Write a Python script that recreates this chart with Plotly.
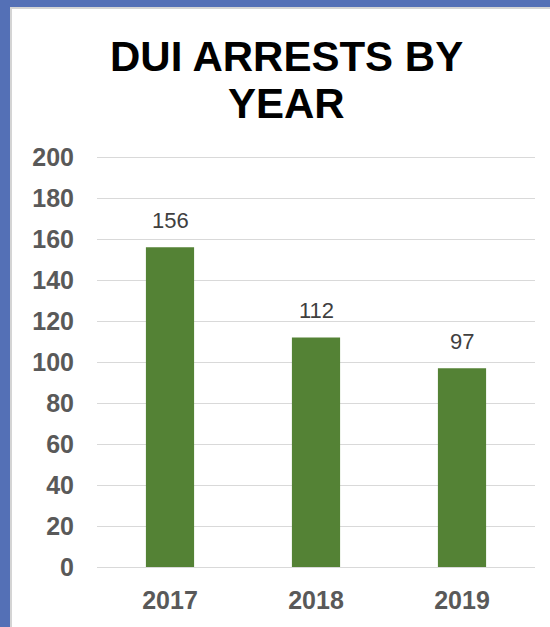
import plotly.graph_objects as go

# Data
years = ["2017", "2018", "2019"]
arrests = [156, 112, 97]
y_ticks = list(range(0, 201, 20))
title_lines = ["DUI ARRESTS BY", "YEAR"]

W, H = 550, 627
L, R, T, B = 97, 15, 155, 60
plot_w = W - L - R
plot_h = H - T - B
y_max = 201


def px_to_paper_x(px):
    return (px - L) / plot_w


def px_to_paper_y(py):
    return (H - B - py) / plot_h


fig = go.Figure(
    go.Bar(
        x=years,
        y=arrests,
        marker=dict(color="#548235", line=dict(width=0)),
        hoverinfo="skip",
    )
)

# Value labels above each bar (category index positions on the x axis)
for i, v in enumerate(arrests):
    fig.add_annotation(
        x=i, y=v, text=str(v), showarrow=False,
        yanchor="bottom", yshift=12,
        font=dict(family="Liberation Sans, Arial, sans-serif", size=22, color="#404040"),
    )

# Two-line title
for text, cy in zip(title_lines, [56, 103]):
    fig.add_annotation(
        x=px_to_paper_x(286), y=px_to_paper_y(cy), xref="paper", yref="paper",
        text=f"<b>{text}</b>", showarrow=False, xanchor="center", yanchor="middle",
        font=dict(family="Liberation Sans, Arial, sans-serif", size=42, color="#000000"),
    )

# White card on the blue slide background
fig.add_shape(
    type="rect", xref="paper", yref="paper", layer="below",
    x0=px_to_paper_x(11), x1=px_to_paper_x(560),
    y0=px_to_paper_y(640), y1=px_to_paper_y(8),
    fillcolor="#ffffff", line=dict(color="#d4d4d4", width=2),
)

fig.update_layout(
    width=W, height=H,
    margin=dict(l=L, r=R, t=T, b=B, autoexpand=False),
    paper_bgcolor="#5470b6",
    plot_bgcolor="rgba(0,0,0,0)",
    showlegend=False,
    bargap=0.67,
    xaxis=dict(
        type="category", range=[-0.5, len(years) - 0.5],
        showgrid=False, zeroline=False, showline=False, ticks="",
        ticklabelstandoff=16,
        tickfont=dict(family="Liberation Sans, Arial, sans-serif", size=25, color="#595959", weight="bold"),
    ),
    yaxis=dict(
        range=[0, y_max], tickvals=y_ticks,
        showgrid=True, gridcolor="#d9d9d9", gridwidth=1,
        zeroline=True, zerolinecolor="#d9d9d9", zerolinewidth=1,
        showline=False, ticks="",
        ticklabelstandoff=22,
        tickfont=dict(family="Liberation Sans, Arial, sans-serif", size=25, color="#595959", weight="bold"),
    ),
)

fig.write_html("out.html")
